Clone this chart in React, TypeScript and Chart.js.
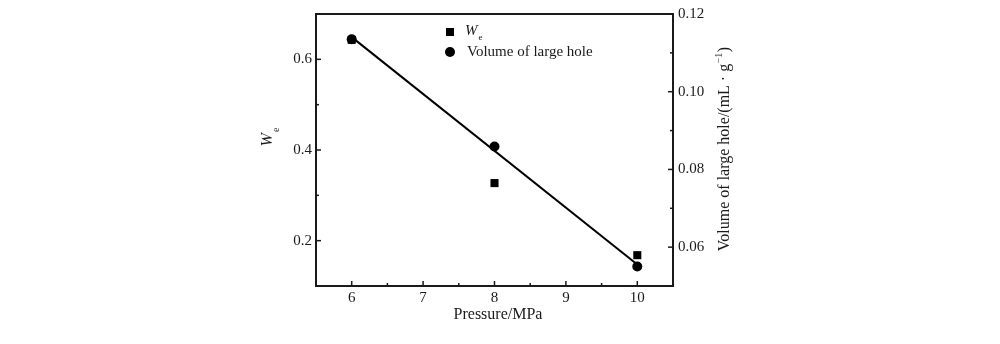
import { useEffect, useRef } from "react";
import { Chart, registerables } from "chart.js";

Chart.register(...registerables);

// ---- data ----
const pressure = [6, 8, 10];
const weValues = [0.643, 0.327, 0.168];
const holeVolume = [0.1135, 0.0859, 0.055];
const xTicks = [6, 7, 8, 9, 10];
const xMinorTicks = [5.5, 6.5, 7.5, 8.5, 9.5, 10.5];
const leftTicks = [0.2, 0.4, 0.6];
const leftMinorTicks = [0.1, 0.3, 0.5, 0.7];
const rightTicks = [0.06, 0.08, 0.1, 0.12];
const rightMinorTicks = [0.05, 0.07, 0.09, 0.11];

// least-squares fit of the hole-volume series
function linearFit(xs: number[], ys: number[]) {
  const n = xs.length;
  const mx = xs.reduce((a, b) => a + b, 0) / n;
  const my = ys.reduce((a, b) => a + b, 0) / n;
  let sxy = 0, sxx = 0;
  for (let i = 0; i < n; i++) {
    sxy += (xs[i] - mx) * (ys[i] - my);
    sxx += (xs[i] - mx) ** 2;
  }
  const k = sxy / sxx;
  return (x: number) => my + k * (x - mx);
}

const FONT = '"Liberation Serif", "Times New Roman", serif';
const INK = "#1a1a1a";

const framePlugin = {
  id: "framePlugin",
  afterDraw(chart: any) {
    const { ctx, chartArea } = chart;
    const { left, right, top, bottom } = chartArea;
    const sx = chart.scales.x;
    const sy = chart.scales.y;
    const sy1 = chart.scales.y1;
    ctx.save();
    ctx.strokeStyle = INK;
    ctx.lineWidth = 2;
    ctx.strokeRect(left, top, right - left, bottom - top);

    ctx.lineWidth = 1.5;
    const tick = (x1: number, y1: number, x2: number, y2: number) => {
      ctx.beginPath();
      ctx.moveTo(x1, y1);
      ctx.lineTo(x2, y2);
      ctx.stroke();
    };
    xTicks.forEach((v) => {
      const px = sx.getPixelForValue(v);
      tick(px, bottom, px, bottom - 5);
    });
    xMinorTicks.forEach((v) => {
      const px = sx.getPixelForValue(v);
      tick(px, bottom, px, bottom - 3);
    });
    leftTicks.forEach((v) => {
      const py = sy.getPixelForValue(v);
      tick(left, py, left + 5, py);
    });
    leftMinorTicks.forEach((v) => {
      const py = sy.getPixelForValue(v);
      tick(left, py, left + 3, py);
    });
    rightTicks.forEach((v) => {
      const py = sy1.getPixelForValue(v);
      tick(right, py, right - 5, py);
    });
    rightMinorTicks.forEach((v) => {
      const py = sy1.getPixelForValue(v);
      tick(right, py, right - 3, py);
    });

    ctx.fillStyle = INK;
    ctx.textBaseline = "middle";

    // x title
    ctx.font = `16px ${FONT}`;
    ctx.textAlign = "center";
    ctx.fillText("Pressure/MPa", 498, 315);

    // left title: W_e (rotated)
    ctx.save();
    ctx.translate(268, 137);
    ctx.rotate(-Math.PI / 2);
    ctx.textAlign = "left";
    ctx.font = `italic 16px ${FONT}`;
    const wW = ctx.measureText("W").width;
    ctx.font = `10px ${FONT}`;
    const eW = ctx.measureText("e").width;
    const total = wW + 1 + eW;
    ctx.font = `italic 16px ${FONT}`;
    ctx.fillText("W", -total / 2, 0);
    ctx.font = `10px ${FONT}`;
    ctx.fillText("e", -total / 2 + wW + 1, 8);
    ctx.restore();

    // right title (rotated)
    ctx.save();
    ctx.translate(725, 149);
    ctx.rotate(-Math.PI / 2);
    ctx.textAlign = "left";
    const p1 = "Volume of large hole/(mL \u00b7 g";
    const p2 = "\u22121";
    const p3 = ")";
    ctx.font = `16px ${FONT}`;
    const w1 = ctx.measureText(p1).width;
    const w3 = ctx.measureText(p3).width;
    ctx.font = `10px ${FONT}`;
    const w2 = ctx.measureText(p2).width;
    const tw = w1 + w2 + w3 + 1;
    let cx = -tw / 2;
    ctx.font = `16px ${FONT}`;
    ctx.fillText(p1, cx, 0);
    cx += w1 + 0.5;
    ctx.font = `10px ${FONT}`;
    ctx.fillText(p2, cx, -6);
    cx += w2 + 0.5;
    ctx.font = `16px ${FONT}`;
    ctx.fillText(p3, cx, 0);
    ctx.restore();

    // legend
    const ds0 = chart.data.datasets[0];
    const ds1 = chart.data.datasets[1];
    ctx.fillStyle = ds0.backgroundColor;
    ctx.fillRect(446, 28, 8, 8);
    ctx.fillStyle = ds1.backgroundColor;
    ctx.beginPath();
    ctx.arc(450, 52, 5, 0, Math.PI * 2);
    ctx.fill();
    ctx.fillStyle = INK;
    ctx.textAlign = "left";
    ctx.font = `italic 15px ${FONT}`;
    ctx.fillText("W", 465, 31);
    const lw = ctx.measureText("W").width;
    ctx.font = `9px ${FONT}`;
    ctx.fillText("e", 465 + lw + 1, 38);
    ctx.font = `15px ${FONT}`;
    ctx.fillText(ds1.label, 467, 52);
    ctx.restore();
  },
};

export default function App() {
  const ref = useRef<HTMLCanvasElement | null>(null);
  useEffect(() => {
    if (!ref.current) return;
    const fit = linearFit(pressure, holeVolume);
    const xMinFit = pressure[0];
    const xMaxFit = pressure[pressure.length - 1];
    const chart = new Chart(ref.current, {
      type: "scatter",
      data: {
        datasets: [
          {
            label: "We",
            data: pressure.map((x, i) => ({ x, y: weValues[i] })),
            yAxisID: "y",
            pointStyle: "rect",
            pointRadius: 5.7,
            pointBorderWidth: 0,
            backgroundColor: "#000",
            borderColor: "#000",
            showLine: false,
          },
          {
            label: "Volume of large hole",
            data: pressure.map((x, i) => ({ x, y: holeVolume[i] })),
            yAxisID: "y1",
            pointStyle: "circle",
            pointRadius: 5,
            pointBorderWidth: 0,
            backgroundColor: "#000",
            borderColor: "#000",
            showLine: false,
          },
          {
            label: "fit",
            data: [
              { x: xMinFit, y: fit(xMinFit) },
              { x: xMaxFit, y: fit(xMaxFit) },
            ],
            yAxisID: "y1",
            showLine: true,
            pointRadius: 0,
            borderColor: "#000",
            borderWidth: 2,
            backgroundColor: "#000",
          },
        ],
      },
      options: {
        animation: false,
        responsive: false,
        maintainAspectRatio: false,
        layout: { padding: { top: 13, left: 0, right: 0, bottom: 0 } },
        plugins: {
          legend: { display: false },
          tooltip: { enabled: false },
        },
        scales: {
          x: {
            type: "linear",
            min: 5.5,
            max: 10.5,
            grid: { display: false, drawTicks: false },
            border: { display: false },
            afterBuildTicks: (axis: any) => {
              axis.ticks = xTicks.map((v) => ({ value: v }));
            },
            afterFit: (scale: any) => {
              scale.height = 58;
            },
            ticks: {
              padding: 3,
              color: INK,
              font: { family: FONT, size: 15 },
              maxRotation: 0,
              callback: (v: any) => String(v),
            },
          },
          y: {
            type: "linear",
            position: "left",
            min: 0.1,
            max: 0.7,
            grid: { display: false, drawTicks: false },
            border: { display: false },
            afterBuildTicks: (axis: any) => {
              axis.ticks = leftTicks.map((v) => ({ value: v }));
            },
            afterFit: (scale: any) => {
              scale.width = 316;
            },
            ticks: {
              padding: 4,
              color: INK,
              font: { family: FONT, size: 15 },
              callback: (v: any) => Number(v).toFixed(1),
            },
          },
          y1: {
            type: "linear",
            position: "right",
            min: 0.05,
            max: 0.12,
            grid: { display: false, drawTicks: false },
            border: { display: false },
            afterBuildTicks: (axis: any) => {
              axis.ticks = rightTicks.map((v) => ({ value: v }));
            },
            afterFit: (scale: any) => {
              scale.width = 327;
            },
            ticks: {
              padding: 5,
              color: INK,
              font: { family: FONT, size: 15 },
              callback: (v: any) => Number(v).toFixed(2),
            },
          },
        },
      },
      plugins: [framePlugin],
    } as any);
    return () => chart.destroy();
  }, []);
  return (
    <div style={{ position: "fixed", left: 0, top: 0, width: 1000, height: 344, background: "#fff" }}>
      <canvas ref={ref} width={1000} height={344} style={{ width: 1000, height: 344 }} />
    </div>
  );
}
